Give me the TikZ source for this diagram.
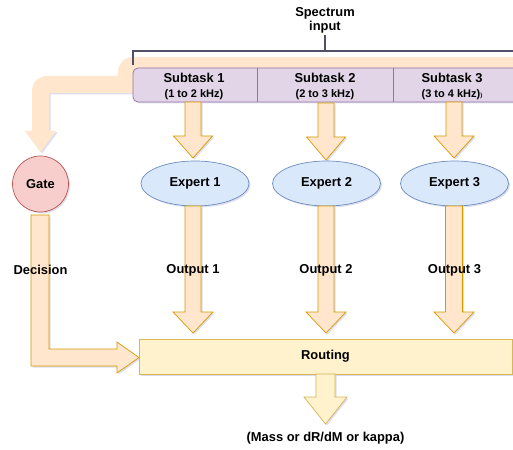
\documentclass[tikz,border=0pt]{standalone}
\usepackage{fontspec}
\setmainfont{Liberation Sans}
\usetikzlibrary{shapes.geometric,shadows}
\definecolor{peachfill}{HTML}{FFE6CC}
\definecolor{peachline}{HTML}{D79B00}
\definecolor{yelfill}{HTML}{FFF2CC}
\definecolor{yelline}{HTML}{D6B656}
\definecolor{lilfill}{HTML}{E1D5E7}
\definecolor{lilline}{HTML}{9673A6}
\definecolor{blufill}{HTML}{DAE8FC}
\definecolor{bluline}{HTML}{6C8EBF}
\definecolor{gatefill}{HTML}{F8CECC}
\definecolor{gateline}{HTML}{B85450}
\definecolor{brkline}{HTML}{505068}
\newcommand{\blkdown}[7]{%
  \filldraw[#7] (#1-#4,#2) -- (#1-#4,#3-#6) -- (#1-#5,#3-#6) -- (#1,#3) -- (#1+#5,#3-#6) -- (#1+#4,#3-#6) -- (#1+#4,#2) -- cycle;}
\tikzset{
  shdw/.style={drop shadow={shadow xshift=1.5pt, shadow yshift=-1.5pt, opacity=0.2, fill=gray!70!blue}},
  lbl/.style={font=\bfseries\fontsize{12.9}{14}\selectfont, text=black, align=center, inner sep=0pt},
  peacharrow/.style={fill=peachfill, draw=peachline, line width=0.7pt, shdw},
  yelarrow/.style={fill=yelfill, draw=yelline, line width=0.7pt, shdw},
  expert/.style={ellipse, fill=blufill, draw=bluline, line width=0.7pt, minimum width=108, minimum height=45, inner sep=0pt, shdw},
  gatenode/.style={circle, fill=gatefill, draw=gateline, line width=0.7pt, minimum size=56, inner sep=0pt, shdw},
  subbox/.style={rectangle, rounded corners=5pt, fill=lilfill, draw=lilline, line width=0.7pt, inner sep=0pt, shdw},
  routebox/.style={rectangle, fill=yelfill, draw=yelline, line width=0.7pt, inner sep=0pt, shdw},
  bracket/.style={draw=brkline, line width=1.4pt}
}
\begin{document}
\begin{tikzpicture}[x=1pt,y=-1pt]
\clip (0,0) rectangle (513,449);
\fill[white] (0,0) rectangle (513,449);

% big input arrow towards the gate
\fill[peachfill, shdw] (530,57) -- (133,57) .. controls (124.7,57) and (118,63.7) .. (118,72) -- (118,76) -- (47,76) .. controls (38.7,76) and (32,82.7) .. (32,91) -- (32,131) -- (25,131) -- (40.5,152) -- (56,131) -- (49,131) -- (49,93) -- (530,93) -- cycle;

% spectrum input and bracket
\node[lbl] (spec) at (325,20) {Spectrum\\input};
\coordinate (brkmid) at (325,51);
\coordinate (brkleft) at (133,51);
\coordinate (brkright) at (530,51);
\coordinate (brktick) at (133,65);
\draw[bracket] (brktick) -- (brkleft) -- (brkright);
\draw[bracket] (spec.south) ++(0,2) -- (brkmid);

% subtask box
\node[subbox, minimum width=427, minimum height=34] (subtasks) at (346.5,85) {};
\draw[lilline, line width=0.7pt] (257,68) -- (257,102);
\draw[lilline, line width=0.7pt] (393,68) -- (393,102);
\node[lbl] (sub1) at (194,86.5) {Subtask 1\\[0.5pt]{\fontsize{11}{13}\selectfont (1 to 2 kHz)}};
\node[lbl] (sub2) at (325,86.5) {Subtask 2\\[0.5pt]{\fontsize{11}{13}\selectfont (2 to 3 kHz)}};
\node[lbl] (sub3) at (452,86.5) {Subtask 3\\[0.5pt]{\fontsize{11}{13}\selectfont (3 to 4 kHz){\fontsize{6}{6}\selectfont )}}};

% arrows subtask -> expert
\blkdown{193}{102}{158}{8}{19.5}{22}{peacharrow}
\blkdown{326}{103}{160}{8}{19.5}{23}{peacharrow}
\blkdown{454}{102}{158}{8}{20}{22}{peacharrow}

% gate and experts
\node[gatenode] (gate) at (40.5,184) {};
\node[lbl] at (gate) {Gate};
\node[expert] (exp1) at (195,183.5) {};
\node[lbl] at (exp1) {Expert 1};
\node[expert] (exp2) at (326.5,183.5) {};
\node[lbl] at (exp2) {Expert 2};
\node[expert] (exp3) at (454.5,183.5) {};
\node[lbl] at (exp3) {Expert 3};

% arrows expert -> routing
\blkdown{193}{206}{333}{8}{20}{21}{peacharrow}
\blkdown{326}{206}{333}{8}{20}{21}{peacharrow}
\blkdown{454}{206}{333}{8.5}{20}{21}{peacharrow}

% decision arrow
\filldraw[peacharrow] (31,215) -- (31,366) -- (117,366) -- (117,373) -- (139,357.5) -- (117,342) -- (117,349) -- (49,349) -- (49,215) -- cycle;

% routing
\node[routebox, minimum width=373, minimum height=35] (routing) at (325.5,356.5) {};
\node[lbl] at (routing) {Routing};
\blkdown{325.5}{374}{424}{9.5}{21.5}{27}{yelarrow}

% labels
\node[lbl] (dec) at (40.5,270) {Decision};
\node[lbl] (out1) at (193,270) {Output 1};
\node[lbl] (out2) at (326,270) {Output 2};
\node[lbl] (out3) at (454.5,270) {Output 3};
\node[lbl] (result) at (325.5,438) {(Mass or dR/dM or kappa)};
\end{tikzpicture}
\end{document}
